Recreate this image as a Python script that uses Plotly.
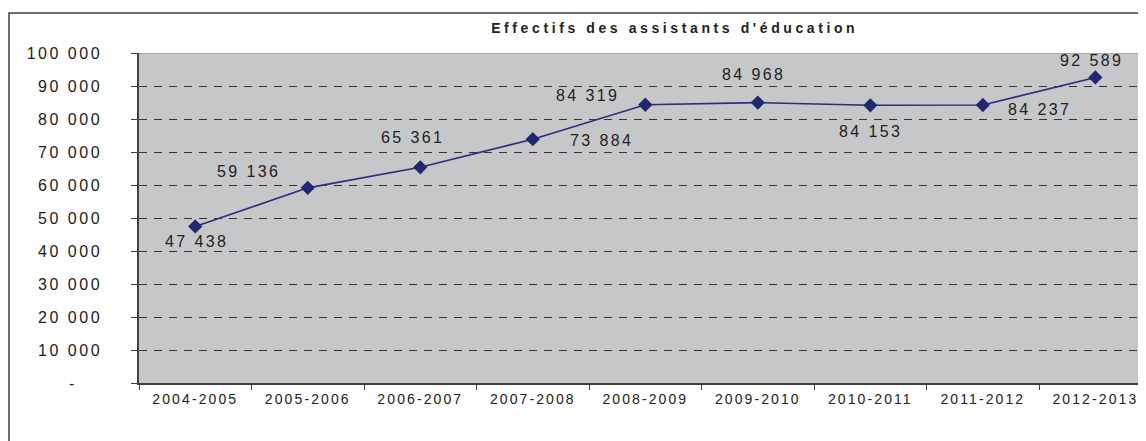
import plotly.graph_objects as go

categories = ["2004-2005", "2005-2006", "2006-2007", "2007-2008", "2008-2009",
              "2009-2010", "2010-2011", "2011-2012", "2012-2013"]
values = [47438, 59136, 65361, 73884, 84319, 84968, 84153, 84237, 92589]
labels = ["47 438", "59 136", "65 361", "73 884", "84 319", "84 968", "84 153", "84 237", "92 589"]
ytickvals = [0, 10000, 20000, 30000, 40000, 50000, 60000, 70000, 80000, 90000, 100000]
yticktext = ["-", "10 000", "20 000", "30 000", "40 000", "50 000", "60 000",
             "70 000", "80 000", "90 000", "100 000"]
title = "Effectifs des assistants d'éducation"

# label offsets (pixels) relative to each point
label_shift = [(1, -15), (-59, 16), (-8, 30), (69, -1), (-58, 9), (-4, 28), (0, -26), (57, -4), (-4, 17)]

FONT = "Liberation Sans, Arial, sans-serif"
TXT = "#222222"


def spaced(t, px):
    return '<span style="letter-spacing:%spx">%s</span>' % (px, t)


def ytick(t):
    if t == "-":
        # accounting-style dash: followed by padding so it sits left of the number column
        return spaced("-", 2.5) + spaced("&nbsp;&nbsp;&nbsp;", 4)
    return spaced(t, 2.5)


fig = go.Figure()
fig.add_trace(go.Scatter(
    x=categories, y=values, mode="lines+markers",
    line=dict(color="#2B2D7C", width=1.6),
    marker=dict(symbol="diamond", size=11, color="#23276F"),
    hoverinfo="x+y", showlegend=False,
))

for c, v, t, (dx, dy) in zip(categories, values, labels, label_shift):
    fig.add_annotation(x=c, y=v, xref="x", yref="y", text=spaced(t, 2.4), showarrow=False,
                       xshift=dx, yshift=dy,
                       font=dict(family=FONT, size=16, color=TXT))

# page body has an 8px margin: figure is 1138x433 placed at (8, 8)
fig.update_layout(
    width=1138, height=433,
    margin=dict(l=131, r=0, t=45, b=58),
    paper_bgcolor="white", plot_bgcolor="#C6C7C9",
    title=dict(text="<b>" + spaced(title, 3.6) + "</b>", x=0.532, xref="paper", xanchor="center",
               y=1 - 20 / 433, yref="container", yanchor="middle",
               font=dict(family=FONT, size=14, color=TXT)),
    xaxis=dict(type="category", range=[-0.5, 8.45], tickson="boundaries",
               ticks="outside", ticklen=5, tickcolor="#404040", tickwidth=1,
               showline=True, linecolor="#404040", linewidth=1.5,
               showgrid=False, fixedrange=True, ticklabelstandoff=2,
               tickvals=categories, ticktext=[spaced(c, 2.1) for c in categories],
               tickfont=dict(family=FONT, size=14, color=TXT)),
    yaxis=dict(range=[0, 100000], tickvals=ytickvals, ticktext=[ytick(t) for t in yticktext],
               ticks="outside", ticklen=6, tickcolor="#404040", tickwidth=1,
               showline=True, linecolor="#404040", linewidth=1.5,
               showgrid=True, gridcolor="#333333", gridwidth=1, griddash="8px,7px",
               zeroline=False, ticklabelstandoff=26, fixedrange=True,
               tickfont=dict(family=FONT, size=16, color=TXT)),
)

# top border of plot area (solid light gray over the 100 000 gridline)
fig.add_shape(type="line", xref="paper", yref="y", x0=0, x1=1, y0=100000, y1=100000,
              line=dict(color="#9A9A9A", width=1.5), layer="above")
# outer chart border
fig.add_shape(type="rect", xref="paper", yref="paper",
              x0=-130 / 1007, x1=1.02, y0=-0.2, y1=(375 - 5) / 330,
              line=dict(color="#404040", width=1.5), fillcolor="rgba(0,0,0,0)", layer="above")

fig.write_html("out.html")
